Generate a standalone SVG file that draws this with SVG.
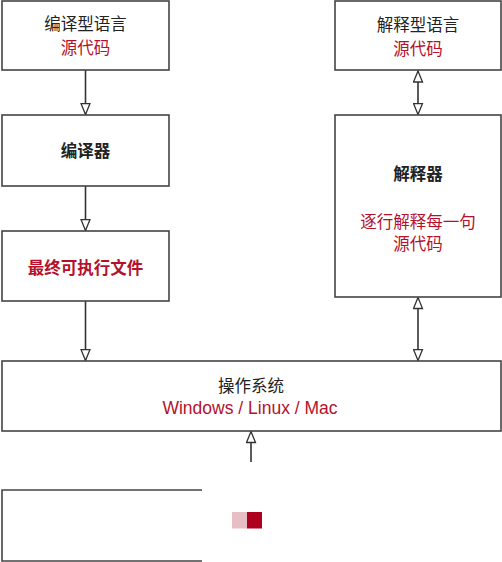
<svg xmlns="http://www.w3.org/2000/svg" width="502" height="562" viewBox="0 0 502 562">
  <style>
    .box { fill: #ffffff; stroke: #444444; stroke-width: 1.6; }
    .t { font-family: "Noto Sans CJK SC", "Liberation Sans", sans-serif; font-size: 16.5px; fill: #222222; text-anchor: middle; }
    .b { font-weight: bold; }
    .r { fill: #b5102c; }
    .lat { font-family: "Liberation Sans", "Noto Sans CJK SC", sans-serif; font-size: 17.5px; }
    .conn { stroke: #333333; stroke-width: 1.6; fill: none; }
  </style>
  <defs>
    <marker id="ah" viewBox="0 0 13 11" refX="12" refY="5.5" markerWidth="13" markerHeight="11" markerUnits="userSpaceOnUse" orient="auto-start-reverse">
      <path d="M1,1 L12,5.5 L1,10 Z" fill="#ffffff" stroke="#333333" stroke-width="1.3"/>
    </marker>
  </defs>
  <rect width="502" height="562" fill="#ffffff"/>

  <g id="connectors">
    <line class="conn" x1="85.5" y1="70" x2="85.5" y2="114.5" marker-end="url(#ah)"/>
    <line class="conn" x1="85.5" y1="186" x2="85.5" y2="230.5" marker-end="url(#ah)"/>
    <line class="conn" x1="85.5" y1="301" x2="85.5" y2="360.5" marker-end="url(#ah)"/>
    <line class="conn" x1="418" y1="71" x2="418" y2="114.5" marker-start="url(#ah)" marker-end="url(#ah)"/>
    <line class="conn" x1="418" y1="297.5" x2="418" y2="360.5" marker-start="url(#ah)" marker-end="url(#ah)"/>
    <line class="conn" x1="251" y1="462" x2="251" y2="431.5" marker-end="url(#ah)"/>
  </g>

  <g id="compiled-source">
    <rect class="box" x="2" y="1" width="167" height="69"/>
    <text class="t" x="85.5" y="30">编译型语言</text>
    <text class="t r" x="85.5" y="54">源代码</text>
  </g>

  <g id="compiler">
    <rect class="box" x="2" y="115" width="167" height="71"/>
    <text class="t b" x="85.5" y="157">编译器</text>
  </g>

  <g id="executable">
    <rect class="box" x="2" y="231" width="167" height="70"/>
    <text class="t b r" x="85.5" y="274">最终可执行文件</text>
  </g>

  <g id="interpreted-source">
    <rect class="box" x="335" y="1" width="166" height="69"/>
    <text class="t" x="418" y="31">解释型语言</text>
    <text class="t r" x="418" y="55">源代码</text>
  </g>

  <g id="interpreter">
    <rect class="box" x="335" y="115" width="166" height="182"/>
    <text class="t b" x="418" y="180">解释器</text>
    <text class="t r" x="418" y="228">逐行解释每一句</text>
    <text class="t r" x="418" y="250">源代码</text>
  </g>

  <g id="os">
    <rect class="box" x="2" y="361" width="499" height="70"/>
    <text class="t" x="251" y="392">操作系统</text>
    <text class="t r lat" x="250" y="414">Windows / Linux / Mac</text>
  </g>

  <g id="partial-box">
    <path class="box" d="M202,490 H2 V561 H202" fill="none"/>
  </g>

  <g id="squares">
    <rect x="232" y="512" width="15" height="16.5" fill="#e8bec5"/>
    <rect x="247" y="512" width="15" height="16.5" fill="#b0001f"/>
  </g>
</svg>
